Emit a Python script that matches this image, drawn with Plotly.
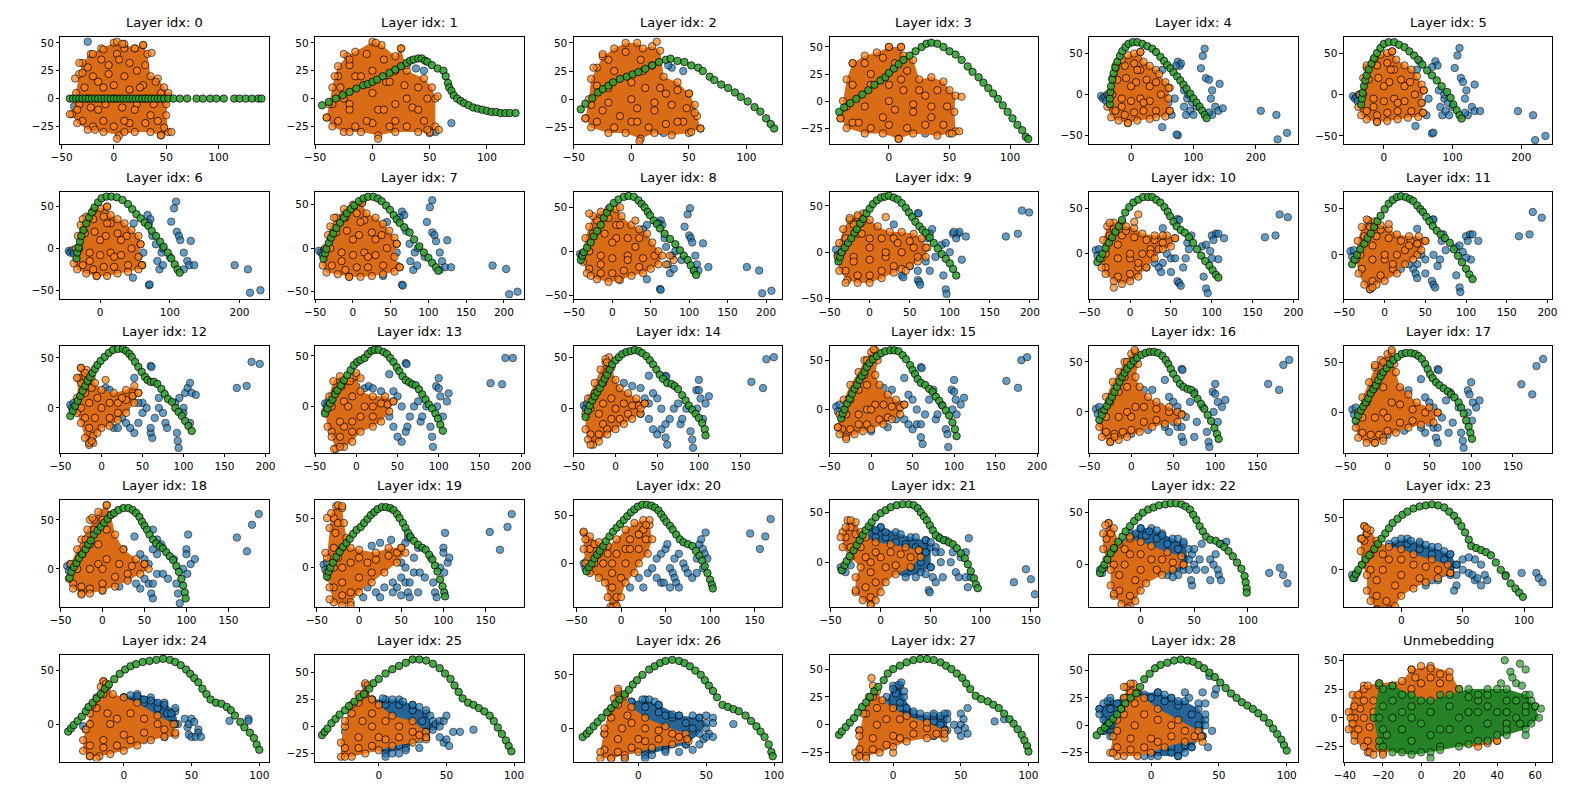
import plotly.graph_objects as go

# ---------------- titles / axes ----------------
titles = [f"Layer idx: {i}" for i in range(29)] + ["Unmebedding"]

x_ranges = [[-51,148],[-50,132],[-50,131],[-49,123],[-67,267],[-58,245],
            [-57,242],[-50,226],[-50,221],[-50,210],[-50,205],[-50,206],
            [-50,204],[-50,203],[-50,200],[-50,201],[-50,198],[-52,197],
            [-50,198],[-52,195],[-53,181],[-51,157],[-48,146.5],[-46.6,123],
            [-46.7,107],[-47,107],[-47.5,106],[-47,107],[-45.5,108],[-40.5,69]]
y_ranges = [[-41,55],[-41,55],[-40,55],[-40,59],[-61,70],[-60,69],
            [-60,68],[-58,65],[-54,68],[-50,65.5],[-49,68],[-47,68],
            [-45,62],[-46,60],[-43,61],[-44,64.5],[-41,66],[-40,66],
            [-39,70],[-40,68],[-45.5,65.6],[-45,62],[-41,62],[-36,67],
            [-35,65],[-32.5,66.6],[-31,69],[-33,63],[-33,64.5],[-38,55]]
XT_A = [-50,0,50,100]
XT_B = [0,50,100]
XT_C = [0,100,200]
XT_D = [-50,0,50,100,150,200]
XT_E = [-50,0,50,100,150]
XT_F = [-40,-20,0,20,40,60]
x_ticks = [XT_A,XT_A,XT_A,XT_B,XT_C,XT_C,
           XT_C,XT_D,XT_D,XT_D,XT_D,XT_D,
           XT_D,XT_D,XT_E,XT_D,XT_E,XT_E,
           XT_E,XT_E,XT_E,XT_E,XT_B,XT_B,
           XT_B,XT_B,XT_B,XT_B,XT_B,XT_F]
YT_A = [-25,0,25,50]
YT_B = [-50,0,50]
YT_C = [0,50]
y_ticks = [YT_A,YT_A,YT_A,YT_A,YT_B,YT_B,
           YT_B,YT_B,YT_B,YT_B,YT_C,YT_C,
           YT_C,YT_C,YT_C,YT_C,YT_C,YT_C,
           YT_C,YT_C,YT_C,YT_C,YT_C,YT_C,
           YT_C,YT_A,YT_C,YT_A,YT_A,YT_A]

# ---------------- data (x, y) ----------------
green_00 = [(-42,0),(-39,0),(-36,0),(-33,0),(-30,0),(-27,0),(-24,0),(-21,0),(-18,0),(-15,0),(-12,0),(-9,0),(-6,0),(-3,0),(0,0),(3,0),(6,0),(9,0),(12,0),(15,0),(18,0),(21,0),(24,0),(27,0),(30,0),(33,0),(36,0),(39,0),(42,0),(45,0),(48,0),(52,0),(57,0),(63,0),(70,0),(79,0),(85,0),(92,0),(98,0),(105,0),(115,0),(120,0),(126,0),(132,0),(138,0),(141,0)]
orange_hull_00 = [(-40,-14),(-36,5),(-33,22),(-30,32),(-22,40),(-12,45),(0,50),(10,49),(20,45),(28,48),(32,40),(35,20),(42,18),(48,10),(52,2),(50,-15),(52,-30),(45,-33),(35,-30),(20,-30),(5,-33),(-10,-30),(-25,-28),(-35,-22)]
orange_00 = [(-42,-14),(3,51),(8,49),(28,48),(20,45),(-33,32),(-30,23),(-20,40),(-10,44),(36,41),(55,-30),(45,-33),(3,-36),(10,-30),(-18,-28),(48,-26),(52,5),(50,-5),(40,15),(-37,18),(30,30),(-35,-10)]
orange_core_00 = [(-30,-20),(-20,-25),(-10,-20),(0,-25),(15,-22),(30,-22),(42,-20),(-33,-5),(-22,-8),(-8,-5),(8,-8),(22,-5),(38,-5),(45,5),(-28,10),(-15,15),(0,12),(15,8),(28,12),(-25,28),(-12,35),(3,40),(15,32),(22,25),(-5,22),(10,45),(-20,20),(-5,30),(10,20),(0,0),(-15,-10),(20,-10),(30,0),(-25,0),(10,-20),(35,-15),(5,35),(-10,10),(25,10)]
blue_00 = [(-25,51),(-38,-7),(-35,-15),(-30,-20),(-20,-13),(45,-10),(-22,36)]

green_01 = [(-44,-6),(-38,-3),(-32,0),(-26,3),(-20,6),(-14,9),(-8,12),(-4,13),(0,15),(4,17),(9,20),(15,23),(20,26),(25,29),(30,32),(33,34),(36,35),(40,36),(43,36),(46,34),(48,33),(52,30),(57,27),(62,25),(64,20),(66,14),(67,10),(69,7),(71,3),(74,0),(77,-2),(80,-4),(84,-6),(88,-8),(92,-9),(96,-10),(100,-11),(104,-12),(108,-12),(112,-13),(116,-13),(120,-13),(125,-13)]
orange_hull_01 = [(-40,-17),(-38,-5),(-35,10),(-33,20),(-30,29),(-22,38),(-15,42),(0,51),(8,48),(20,38),(25,45),(30,25),(45,18),(52,10),(55,0),(55,-25),(50,-31),(40,-30),(20,-30),(5,-33),(-10,-30),(-25,-30),(-35,-25)]
orange_01 = [(-40,-17),(-25,40),(-20,35),(3,50),(25,45),(30,30),(50,-30),(58,-28),(57,2),(48,-28),(5,-36),(-20,-30)]
orange_core_01 = [(-30,-20),(-15,-25),(0,-22),(15,-25),(30,-25),(45,-20),(-35,-5),(-20,-5),(5,-10),(20,-5),(35,-8),(48,0),(-28,10),(-15,20),(0,25),(12,15),(28,12),(40,10),(-20,30),(-5,40),(10,35),(20,25),(-30,20),(-10,20),(0,5),(10,-10),(-20,-10),(30,0),(20,-20),(40,-10),(-5,-20),(15,15),(-25,0)]
blue_01 = [(38,27),(45,25),(20,28),(69,-22),(55,-30),(42,-25),(48,-15),(50,-10)]

green_02 = [(-44,-9),(-40,-4),(-34,1),(-29,6),(-25,9),(-20,12),(-16,15),(-10,18),(-4,20),(1,22),(6,24),(12,27),(18,30),(24,33),(30,35),(34,36),(40,34),(46,33),(52,30),(58,28),(62,25),(68,20),(72,17),(78,13),(84,10),(90,6),(95,2),(101,-2),(107,-7),(112,-11),(117,-17),(121,-22),(124,-26)]
orange_hull_02 = [(-40,-17),(-37,0),(-35,18),(-30,28),(-25,38),(-15,45),(-5,50),(5,50),(10,45),(18,47),(25,43),(28,20),(40,15),(50,5),(55,-5),(57,-15),(60,-26),(50,-30),(35,-32),(20,-30),(8,-35),(-5,-30),(-20,-30),(-35,-25)]
orange_02 = [(-40,-17),(52,-29),(60,-26),(55,-12),(50,5),(7,-37),(22,51),(-33,28),(-25,40)]
orange_core_02 = [(-30,-20),(-15,-25),(0,-20),(15,-25),(30,-22),(45,-20),(-35,-5),(-20,-3),(5,-8),(20,-3),(35,-5),(48,-8),(-30,12),(-15,25),(0,15),(12,10),(25,10),(40,8),(-20,35),(-5,42),(8,35),(18,30),(-20,10),(0,0),(20,-10),(-10,-15),(30,5),(10,25),(-25,-10),(40,-20),(5,-20)]
blue_02 = [(30,-27),(28,-30),(25,-28),(35,28),(45,25),(32,30),(40,-25)]

green_03 = [(-41,-10),(-37,-6),(-32,-2),(-27,2),(-22,6),(-17,10),(-12,15),(-7,19),(-3,22),(0,26),(4,30),(8,34),(12,38),(17,42),(22,46),(27,50),(31,53),(35,54),(40,53),(45,50),(50,46),(55,43),(60,38),(65,32),(69,27),(74,22),(78,17),(82,12),(86,7),(90,2),(94,-4),(98,-10),(102,-16),(106,-22),(110,-27),(113,-33),(115,-35)]
orange_hull_03 = [(-40,-16),(-38,0),(-35,20),(-30,35),(-20,42),(-10,45),(0,50),(10,50),(12,42),(20,38),(25,20),(35,22),(45,18),(50,10),(55,5),(54,-10),(55,-28),(50,-30),(40,-32),(20,-30),(8,-35),(-5,-30),(-20,-30),(-35,-25)]
orange_03 = [(-40,-16),(0,50),(10,50),(60,4),(58,-28),(52,-30),(8,-35),(-30,35)]
orange_core_03 = [(-30,-20),(-15,-25),(0,-22),(15,-25),(30,-22),(45,-22),(-35,-5),(-20,-5),(5,-8),(20,-3),(35,-5),(48,-5),(-30,15),(-15,25),(0,15),(12,10),(25,10),(40,10),(-20,35),(-5,40),(5,35),(15,28),(-25,-20),(0,0),(20,-10),(-15,15),(35,-15),(10,20),(-5,-15),(30,5)]
blue_03 = [(15,18),(20,8),(30,-30),(-30,-20)]

green_04 = [(-34,-12),(-34,-5),(-33,3),(-32,10),(-30,18),(-28,26),(-25,33),(-22,40),(-18,47),(-14,53),(-9,58),(-4,62),(3,64),(10,64),(18,62),(26,59),(34,56),(40,52),(47,46),(53,41),(58,36),(63,32),(68,27),(74,22),(79,17),(84,12),(89,7),(95,1),(100,-5),(105,-10),(110,-15),(114,-20),(118,-25),(121,-29)]
orange_hull_04 = [(-38,-15),(-35,0),(-30,20),(-25,32),(-15,42),(-5,48),(5,50),(15,52),(20,40),(30,35),(40,30),(45,25),(55,15),(62,8),(60,-5),(62,-20),(55,-27),(40,-28),(30,-30),(10,-32),(-5,-35),(-20,-32),(-32,-28)]
orange_04 = [(15,52),(-25,35),(62,-20),(60,8),(-5,-35)]
orange_core_04 = [(-25,-20),(-10,-25),(5,-22),(20,-20),(40,-20),(-30,0),(-15,-5),(0,-8),(15,-5),(30,-8),(48,0),(-22,18),(-8,20),(8,15),(25,18),(40,15),(-10,35),(5,38),(15,30),(0,10),(20,-10),(-15,-15),(30,10),(10,30)]
blue_04 = [(-48,-2),(-45,-5),(-42,-3),(-40,-8),(-38,0),(50,30),(55,10),(60,-10),(65,-25),(50,-40),(75,-50),(73,-49),(75,40),(78,35),(80,38),(72,35),(85,-15),(88,-25),(90,-5),(95,-20),(98,-10),(100,-25),(85,5),(118,56),(115,47),(112,32),(120,20),(125,18),(130,5),(128,-5),(142,13),(135,-15),(140,-20),(147,-17),(130,-25),(125,-22),(208,-20),(233,-25),(235,-55),(250,-47),(70,-5),(92,0),(105,-15)]

green_05 = [(-33,-12),(-32,-5),(-31,2),(-29,10),(-27,17),(-25,23),(-22,30),(-18,37),(-14,44),(-10,50),(-5,56),(0,61),(7,63),(15,63),(22,60),(30,57),(37,52),(44,47),(50,42),(56,36),(63,29),(70,23),(77,17),(84,10),(92,3),(97,-4),(101,-12),(106,-19),(110,-25),(113,-29)]
orange_hull_05 = [(-37,-15),(-35,0),(-30,20),(-25,32),(-15,42),(-5,48),(5,50),(12,52),(18,42),(30,35),(40,30),(48,22),(55,12),(58,5),(55,-10),(57,-22),(50,-27),(35,-28),(20,-30),(5,-32),(-10,-33),(-25,-30),(-33,-25)]
orange_05 = [(12,52),(-25,35),(57,-22),(58,5),(-10,-33)]
orange_core_05 = [(-25,-20),(-10,-25),(5,-22),(20,-20),(40,-20),(-30,0),(-15,-5),(0,-8),(15,-5),(30,-8),(45,0),(-22,18),(-8,20),(8,15),(25,18),(38,15),(-10,35),(5,38),(15,30),(0,10),(20,-10),(-15,-15),(30,10),(10,30)]
blue_05 = [(-45,-2),(-42,-5),(-40,-3),(-38,-8),(-36,0),(48,30),(52,40),(50,10),(55,-10),(62,-25),(46,-38),(70,-47),(72,-46),(75,40),(78,35),(70,33),(82,-15),(85,-25),(88,-5),(90,-20),(93,-10),(95,-25),(80,5),(110,56),(107,47),(103,32),(112,20),(115,15),(120,5),(118,-5),(132,12),(128,-15),(132,-20),(140,-20),(122,-25),(118,-22),(195,-20),(217,-25),(220,-55),(235,-50),(65,-5),(88,0),(100,-15)]

green_06 = [(-34,-12),(-33,-5),(-31,1),(-29,8),(-27,15),(-24,22),(-20,30),(-16,37),(-12,43),(-8,49),(-3,55),(2,60),(9,62),(16,62),(24,61),(32,58),(40,53),(46,47),(52,41),(58,36),(64,31),(69,27),(74,21),(80,15),(86,8),(91,2),(97,-5),(102,-12),(107,-19),(111,-25),(114,-29)]
orange_hull_06 = [(-38,-18),(-35,0),(-32,15),(-28,28),(-20,38),(-10,45),(0,48),(10,50),(15,40),(25,35),(35,30),(45,22),(55,15),(58,5),(55,-10),(60,-20),(55,-25),(40,-28),(25,-30),(10,-33),(-5,-33),(-20,-30),(-33,-25)]
orange_06 = [(10,50),(-25,35),(60,-20),(58,5),(-5,-33)]
orange_core_06 = [(-25,-20),(-10,-25),(5,-22),(20,-22),(40,-20),(-30,0),(-15,-5),(0,-8),(15,-5),(30,-8),(45,0),(-22,18),(-8,20),(8,15),(25,18),(38,15),(-10,35),(5,38),(15,30),(0,10),(20,-10),(-15,-15),(30,10),(10,30)]
blue_06 = [(-45,-3),(-43,-5),(-40,-2),(-38,-6),(48,30),(50,10),(55,-10),(60,-20),(47,-35),(70,-44),(71,-43),(68,40),(72,35),(70,30),(82,-15),(85,-25),(88,-5),(90,-20),(80,5),(75,15),(109,56),(106,48),(102,32),(110,20),(113,15),(115,10),(120,-5),(130,9),(125,-15),(128,-20),(135,-20),(120,-25),(193,-20),(212,-25),(215,-53),(230,-50),(62,-5),(90,0),(100,-10)]

green_07 = [(-39,-12),(-37,-6),(-35,-1),(-32,6),(-29,12),(-26,17),(-22,23),(-17,29),(-12,35),(-8,40),(-3,45),(2,49),(8,54),(14,57),(20,59),(27,59),(33,57),(38,54),(44,49),(49,44),(54,38),(58,33),(62,29),(68,24),(75,18),(81,10),(88,2),(94,-5),(100,-11),(105,-17),(110,-22),(113,-26)]
orange_hull_07 = [(-40,-20),(-37,0),(-33,15),(-30,25),(-22,35),(-12,45),(0,50),(12,52),(18,40),(30,35),(40,28),(48,20),(55,12),(58,5),(55,-10),(62,-22),(55,-27),(40,-30),(25,-32),(10,-33),(-5,-33),(-20,-30),(-35,-28)]
orange_07 = [(12,52),(-25,35),(62,-22),(58,5),(-5,-33)]
orange_core_07 = [(-28,-20),(-10,-25),(5,-22),(20,-22),(40,-20),(-30,0),(-15,-5),(0,-8),(15,-5),(30,-8),(45,0),(-22,18),(-8,20),(8,15),(25,18),(38,15),(-10,35),(5,40),(15,32),(0,10),(20,-10),(-15,-15),(30,10),(10,30)]
blue_07 = [(-45,-3),(-42,-5),(-40,-8),(-38,-2),(45,30),(48,10),(52,-10),(58,-20),(40,-32),(65,-42),(66,-43),(65,42),(68,38),(62,35),(76,-15),(80,-25),(82,-5),(85,-20),(75,5),(70,20),(105,55),(102,47),(98,30),(105,18),(108,15),(110,8),(115,-5),(125,9),(118,-15),(122,-22),(130,-22),(115,-25),(185,-20),(203,-24),(207,-53),(218,-50),(58,-5),(86,0),(95,-10)]

green_08 = [(-41,-10),(-39,-5),(-37,-1),(-33,4),(-28,10),(-24,17),(-20,23),(-15,30),(-11,38),(-7,44),(-3,50),(2,55),(8,59),(15,62),(21,63),(28,62),(34,58),(38,54),(42,50),(46,45),(49,41),(54,35),(58,31),(62,26),(68,20),(75,14),(82,8),(88,1),(93,-5),(98,-10),(102,-16),(106,-22),(109,-27)]
orange_hull_08 = [(-38,-2),(-35,15),(-30,28),(-25,40),(-15,45),(-5,48),(5,48),(12,40),(25,30),(35,25),(45,20),(52,10),(60,0),(65,-5),(60,-15),(50,-20),(40,-25),(25,-28),(10,-33),(-5,-35),(-20,-32),(-33,-25),(-38,-12)]
orange_08 = [(30,35),(-28,-28),(80,-10),(75,-5),(8,-32),(10,50),(-30,43),(70,-15)]
orange_core_08 = [(-30,-20),(-15,-25),(0,-25),(15,-22),(35,-18),(-30,0),(-15,-5),(0,-8),(20,-5),(40,-8),(55,-5),(-25,20),(-10,20),(5,15),(20,15),(35,15),(-20,35),(-5,38),(5,30),(0,10),(20,-10),(-15,-15),(30,5),(10,30)]
blue_08 = [(-42,-3),(-40,-5),(-38,-10),(45,30),(40,25),(50,-15),(45,-32),(62,-43),(63,-44),(63,35),(65,30),(60,32),(72,-15),(75,-25),(78,-5),(80,-20),(70,5),(68,15),(101,49),(98,42),(94,28),(100,18),(102,15),(104,10),(108,-5),(118,9),(110,-15),(112,-22),(125,-18),(106,-22),(175,-18),(191,-22),(195,-48),(207,-45),(55,-5),(82,0),(90,-10),(30,-15),(20,-20)]

green_09 = [(-39,-10),(-37,-5),(-35,0),(-31,5),(-27,10),(-23,15),(-19,21),(-16,25),(-12,31),(-8,36),(-4,42),(0,47),(4,52),(9,56),(14,59),(19,60),(24,61),(30,59),(35,57),(40,53),(45,48),(49,43),(53,38),(57,33),(62,28),(66,24),(70,21),(75,16),(80,10),(85,4),(90,-2),(95,-7),(100,-12),(104,-18),(108,-25)]
orange_hull_09 = [(-40,-5),(-38,10),(-33,25),(-25,35),(-15,38),(-8,42),(0,35),(10,28),(25,22),(40,22),(55,20),(65,15),(72,5),(70,-5),(60,-10),(50,-15),(40,-18),(30,-22),(15,-28),(0,-33),(-15,-33),(-28,-30),(-38,-20)]
orange_09 = [(20,38),(-30,-33),(-25,37),(-15,40),(70,5),(60,-5),(45,-20)]
orange_core_09 = [(-30,-20),(-15,-25),(0,-25),(15,-20),(30,-15),(-35,0),(-20,-5),(0,-8),(20,-5),(40,0),(55,5),(-30,15),(-15,20),(0,15),(15,15),(30,15),(50,12),(-20,30),(-10,32),(0,5),(20,0),(-20,-10),(35,10),(-10,20)]
blue_09 = [(-42,3),(-40,-3),(-38,-8),(-36,-10),(30,30),(60,42),(61,42),(50,-5),(50,-15),(40,-25),(42,-27),(60,-30),(62,-32),(63,-35),(40,15),(45,10),(70,-10),(72,15),(75,-20),(78,25),(75,20),(90,8),(92,-25),(95,-40),(96,-45),(95,10),(100,0),(104,20),(110,20),(112,22),(108,15),(115,-8),(120,17),(105,22),(170,17),(185,20),(190,45),(199,43),(35,-10),(55,0),(60,-20),(82,-5)]

green_10 = [(-40,-9),(-37,-5),(-34,0),(-30,6),(-26,12),(-22,18),(-18,24),(-14,30),(-10,37),(-6,45),(-1,51),(4,56),(10,59),(16,62),(22,62),(27,62),(32,59),(37,56),(42,51),(46,46),(49,41),(53,35),(57,30),(62,26),(67,23),(72,18),(77,12),(82,5),(87,-2),(92,-8),(97,-13),(101,-18),(105,-23),(108,-26)]
orange_hull_10 = [(-35,-5),(-33,15),(-28,30),(-20,34),(-10,35),(-5,30),(5,28),(15,22),(30,20),(45,20),(55,17),(50,8),(40,5),(30,-5),(20,-15),(10,-25),(0,-30),(-10,-33),(-20,-30),(-30,-22),(-35,-15)]
orange_10 = [(10,43),(-20,-37),(55,17),(-25,34),(5,35),(40,20)]
orange_core_10 = [(-30,-15),(-15,-25),(0,-22),(10,-15),(-30,0),(-15,-5),(0,-5),(15,0),(25,5),(40,12),(-25,20),(-10,20),(5,18),(20,15),(30,15),(-20,28),(-5,25),(35,5),(25,0),(0,0),(-15,10),(10,-10)]
blue_10 = [(-42,4),(-40,-2),(-38,5),(-36,-5),(40,28),(58,38),(60,37),(45,0),(40,-10),(35,-15),(38,-20),(58,-30),(60,-32),(62,-35),(50,-5),(55,-5),(65,-15),(68,-5),(70,12),(75,20),(72,5),(88,8),(90,-25),(93,-38),(95,-43),(93,10),(98,3),(100,20),(105,22),(108,22),(102,15),(108,-6),(115,17),(100,-5),(165,18),(178,20),(183,43),(193,40),(30,-10),(20,-15),(50,-20)]

green_11 = [(-40,-10),(-37,-5),(-34,0),(-30,6),(-25,12),(-21,18),(-17,23),(-13,30),(-9,36),(-5,42),(0,49),(5,55),(10,59),(15,62),(20,63),(26,62),(31,60),(35,58),(40,53),(44,49),(47,46),(51,41),(55,36),(59,31),(64,26),(69,22),(74,18),(80,13),(85,6),(90,-1),(95,-8),(100,-15),(104,-21),(108,-26)]
orange_hull_11 = [(-35,-5),(-33,15),(-28,30),(-20,37),(-12,36),(-5,32),(5,28),(15,22),(30,20),(42,20),(50,15),(45,5),(35,-5),(25,-10),(15,-20),(0,-28),(-10,-32),(-18,-37),(-25,-32),(-32,-20)]
orange_11 = [(5,33),(-22,38),(50,15),(-18,-37),(-15,-35)]
orange_core_11 = [(-28,-15),(-15,-28),(-5,-22),(10,-15),(-30,0),(-15,-5),(0,-5),(15,0),(25,5),(40,12),(-25,20),(-10,20),(5,18),(20,15),(32,15),(-18,30),(-5,27),(30,10),(40,0),(0,0),(-15,10),(10,-10)]
blue_11 = [(-42,4),(-40,-2),(-38,5),(-36,-5),(40,28),(59,38),(60,38),(45,0),(40,-10),(35,-15),(38,-20),(40,-25),(58,-28),(60,-32),(62,-35),(50,-5),(60,0),(65,-12),(68,-5),(70,15),(72,22),(75,5),(88,8),(88,-22),(92,-35),(93,-40),(92,10),(96,3),(100,20),(105,22),(108,22),(102,15),(106,-5),(115,15),(100,-3),(165,20),(178,22),(182,46),(193,40),(30,-10),(20,-15),(50,-20)]

green_12 = [(-38,-8),(-35,-3),(-32,2),(-29,7),(-26,12),(-23,17),(-20,22),(-17,27),(-14,31),(-11,35),(-8,39),(-5,43),(-1,47),(4,51),(9,55),(14,58),(20,59),(26,59),(30,57),(34,54),(37,51),(41,46),(45,41),(49,36),(53,31),(56,28),(60,26),(64,26),(68,24),(73,19),(77,14),(81,9),(86,6),(90,0),(94,-4),(98,-8),(102,-13),(106,-18),(110,-23)]
orange_hull_12 = [(-30,10),(-28,30),(-25,40),(-18,38),(-12,30),(-8,25),(0,18),(15,15),(30,18),(40,22),(45,15),(40,5),(30,-5),(20,-12),(10,-18),(0,-20),(-5,-25),(-10,-35),(-15,-37),(-20,-30),(-25,-15),(-30,-5)]
orange_12 = [(-30,30),(-25,40),(-20,35),(-15,-35),(-12,-33),(5,28),(45,15)]
orange_core_12 = [(-25,25),(-20,15),(-25,0),(-20,-10),(-15,-20),(-10,-28),(-12,20),(-5,10),(-8,-10),(0,0),(10,5),(20,5),(30,8),(38,12),(10,-10),(20,-5),(25,10),(-15,5)]
blue_12 = [(-38,3),(-36,0),(-34,5),(-32,-3),(5,20),(10,18),(40,30),(60,42),(61,41),(15,-20),(20,-20),(25,-10),(30,-15),(35,-20),(40,-25),(45,-15),(50,-5),(50,5),(55,0),(60,-25),(62,-30),(60,-20),(65,-10),(70,0),(75,-5),(78,-15),(80,-20),(70,10),(90,5),(92,-25),(93,-33),(94,-40),(95,10),(100,0),(102,15),(105,20),(108,25),(110,15),(115,13),(100,-5),(108,-15),(165,20),(177,22),(183,46),(193,44),(30,0),(35,10),(45,5)]

green_13 = [(-38,-7),(-35,-2),(-32,3),(-29,7),(-26,12),(-23,16),(-19,21),(-15,26),(-11,31),(-7,36),(-3,41),(1,44),(5,46),(10,48),(14,52),(18,55),(22,56),(27,56),(33,54),(37,52),(41,48),(45,44),(49,39),(52,35),(56,30),(60,26),(64,24),(68,22),(72,21),(76,17),(80,12),(84,7),(88,2),(92,-2),(96,-7),(99,-12),(102,-18),(105,-24)]
orange_hull_13 = [(-38,-5),(-33,10),(-28,25),(-20,30),(-12,25),(-5,28),(0,30),(5,15),(20,10),(35,10),(45,5),(40,-5),(30,-15),(20,-20),(5,-25),(-5,-35),(-15,-40),(-25,-42),(-30,-30),(-35,-20)]
orange_13 = [(-27,-42),(-20,-40),(0,33),(5,28),(45,5),(-8,25)]
orange_core_13 = [(-30,-25),(-20,-30),(-15,-20),(-30,0),(-25,15),(-18,20),(-15,5),(-5,10),(-5,-15),(5,-10),(10,0),(20,0),(30,3),(38,2),(20,-10),(-5,-25),(-10,0),(-20,-15)]
blue_13 = [(-38,3),(-36,0),(-34,5),(-32,-3),(-30,10),(-25,5),(0,20),(10,18),(15,20),(20,18),(30,15),(40,32),(60,43),(61,42),(45,15),(50,10),(55,0),(40,-10),(45,-20),(50,-30),(55,-35),(60,-25),(62,-20),(65,-10),(70,0),(75,5),(78,-15),(80,-10),(85,0),(90,-20),(92,-30),(93,-40),(97,20),(100,28),(100,18),(102,10),(110,5),(112,13),(98,0),(105,-10),(163,23),(177,22),(181,48),(190,48),(25,0),(30,-5),(35,5)]

green_14 = [(-36,-8),(-33,-2),(-31,3),(-28,8),(-25,12),(-22,16),(-19,20),(-16,25),(-13,29),(-10,33),(-7,38),(-4,43),(0,47),(4,50),(8,53),(13,55),(18,56),(23,57),(28,56),(32,54),(37,51),(41,47),(45,43),(49,38),(53,33),(57,29),(62,25),(67,24),(71,22),(75,19),(80,13),(84,8),(88,3),(92,-1),(96,-5),(100,-9),(104,-14),(107,-20),(108,-26)]
orange_hull_14 = [(-36,-5),(-33,10),(-25,25),(-18,38),(-12,45),(-8,50),(-5,40),(0,28),(5,20),(15,15),(25,10),(35,5),(30,-5),(20,-10),(10,-15),(0,-20),(-10,-25),(-20,-32),(-27,-35),(-33,-30),(-36,-20)]
orange_14 = [(-12,48),(-10,45),(-30,-35),(30,0),(35,5)]
orange_core_14 = [(-30,-25),(-20,-25),(-15,-15),(-30,0),(-25,15),(-15,25),(-12,35),(-15,5),(-5,10),(-5,-10),(5,-10),(10,5),(20,3),(28,3),(15,-5),(-10,-20),(0,0),(-20,-5)]
blue_14 = [(-38,3),(-36,0),(-34,5),(-32,-3),(-30,10),(0,20),(10,25),(20,22),(30,20),(40,32),(60,32),(61,31),(45,15),(50,10),(55,0),(40,-10),(45,-20),(50,-25),(55,-20),(60,-28),(62,-35),(60,-15),(65,-10),(70,0),(75,5),(78,-15),(80,-10),(85,0),(90,-22),(92,-30),(93,-38),(97,18),(100,28),(100,18),(102,10),(108,5),(112,12),(98,0),(105,-10),(163,26),(177,20),(181,48),(190,50),(10,5),(20,0),(30,-5),(40,5),(35,10),(15,10)]

green_15 = [(-36,-9),(-34,-4),(-32,0),(-29,6),(-26,11),(-23,16),(-20,21),(-17,25),(-14,30),(-11,34),(-8,38),(-5,43),(-2,47),(2,51),(7,54),(12,57),(17,59),(23,60),(28,60),(33,59),(38,55),(42,51),(47,45),(50,40),(53,36),(56,31),(60,27),(65,25),(70,21),(74,18),(78,13),(82,9),(86,4),(90,-1),(94,-6),(98,-13),(101,-20),(103,-27)]
orange_hull_15 = [(-40,-18),(-38,-5),(-33,10),(-25,25),(-15,38),(-8,50),(0,58),(5,60),(8,50),(5,35),(10,25),(20,15),(30,10),(40,5),(35,-5),(25,-10),(15,-15),(0,-20),(-10,-22),(-20,-25),(-30,-28),(-38,-25)]
orange_15 = [(3,61),(-5,50),(-30,-30),(40,5),(-40,-18)]
orange_core_15 = [(-35,-20),(-25,-20),(-15,-15),(-5,-15),(-30,-5),(-25,10),(-15,20),(-8,35),(-2,48),(-15,-5),(-5,0),(5,5),(15,5),(25,3),(35,2),(10,-10),(20,-8),(-5,25),(0,0)]
blue_15 = [(-42,3),(-40,-2),(-38,5),(-35,-15),(5,20),(15,22),(25,20),(40,32),(60,43),(61,42),(45,15),(50,10),(55,0),(40,-10),(45,-15),(50,-20),(55,-15),(60,-28),(62,-35),(60,-15),(65,-5),(70,10),(75,20),(78,-10),(80,-5),(85,5),(90,-20),(92,-25),(93,-38),(97,20),(100,30),(100,18),(102,10),(108,5),(112,12),(98,0),(103,-5),(163,29),(177,22),(181,50),(188,53),(10,5),(20,0),(30,-10),(35,5),(20,-18),(0,-22)]

green_16 = [(-38,-8),(-35,-3),(-32,2),(-29,6),(-26,11),(-23,15),(-20,20),(-17,25),(-14,30),(-11,35),(-8,39),(-5,43),(-1,47),(3,51),(7,54),(12,57),(17,59),(22,60),(27,60),(32,59),(37,56),(41,52),(44,48),(47,43),(50,38),(54,33),(58,28),(62,25),(67,23),(71,22),(75,18),(79,13),(83,8),(87,3),(91,-3),(95,-9),(99,-16),(102,-22),(104,-27)]
orange_hull_16 = [(-38,-15),(-35,0),(-30,15),(-22,30),(-15,40),(-8,50),(0,58),(5,60),(8,48),(5,35),(10,25),(20,15),(30,10),(45,5),(60,-2),(55,-10),(40,-12),(25,-15),(10,-20),(-5,-25),(-15,-28),(-25,-30),(-35,-25)]
orange_16 = [(4,62),(-5,50),(-25,-30),(55,0),(60,-3),(-20,-25)]
orange_core_16 = [(-30,-20),(-20,-22),(-10,-20),(0,-18),(-30,-5),(-25,10),(-15,20),(-8,35),(0,48),(-15,-5),(-5,0),(5,5),(15,5),(30,3),(45,0),(15,-10),(30,-8),(-5,25),(0,-5)]
blue_16 = [(-42,3),(-40,-2),(-38,5),(-35,-12),(5,20),(15,22),(25,22),(40,32),(60,43),(61,42),(45,15),(50,10),(55,5),(40,-15),(45,-20),(50,-10),(55,-15),(60,-25),(62,-30),(60,-15),(65,-5),(70,10),(75,20),(75,-25),(78,-10),(85,5),(90,-20),(92,-30),(93,-35),(97,20),(100,28),(100,18),(103,10),(108,5),(112,12),(98,0),(103,-10),(163,28),(176,22),(181,47),(188,52),(10,0),(20,-5),(30,-10),(35,5),(20,-18),(0,-22)]

green_17 = [(-38,-8),(-35,-3),(-32,2),(-29,6),(-26,10),(-23,14),(-20,19),(-17,23),(-14,27),(-11,32),(-8,36),(-5,40),(-1,44),(3,48),(7,52),(12,55),(17,58),(22,59),(28,59),(33,58),(37,56),(41,53),(45,48),(48,43),(51,38),(54,34),(58,30),(62,27),(67,24),(72,21),(76,18),(80,15),(85,10),(88,5),(91,-1),(94,-8),(97,-14),(99,-20),(101,-26)]
orange_hull_17 = [(-38,-15),(-35,0),(-30,15),(-22,30),(-15,45),(-8,52),(0,58),(5,60),(8,48),(10,40),(15,25),(25,18),(35,10),(50,5),(60,0),(55,-10),(40,-12),(25,-15),(10,-20),(-5,-25),(-15,-30),(-25,-30),(-35,-25)]
orange_17 = [(5,62),(-5,50),(-15,-30),(-5,-28),(60,0),(-15,47)]
orange_core_17 = [(-30,-20),(-20,-22),(-10,-22),(0,-18),(-30,-5),(-25,10),(-15,25),(-8,38),(0,48),(-15,-5),(-5,0),(5,10),(15,8),(30,3),(45,0),(15,-10),(30,-8),(-5,25),(0,-5)]
blue_17 = [(-42,3),(-40,-2),(-38,5),(-35,-12),(5,20),(15,22),(25,22),(40,33),(60,43),(61,42),(45,15),(50,10),(55,5),(40,-15),(45,-20),(50,-10),(55,-15),(58,-25),(60,-30),(60,-15),(65,-5),(70,12),(75,20),(73,-20),(78,-10),(85,5),(88,-20),(90,-28),(91,-35),(96,22),(100,30),(98,18),(102,10),(106,5),(110,12),(96,0),(101,-8),(160,28),(173,18),(178,46),(186,53),(10,0),(20,-5),(30,-10),(35,5),(20,-18),(0,-22)]

green_18 = [(-39,-9),(-37,-3),(-34,2),(-31,6),(-28,11),(-24,15),(-20,20),(-17,25),(-14,29),(-10,35),(-6,39),(-2,43),(2,47),(6,51),(10,55),(14,57),(19,60),(25,62),(31,62),(36,60),(40,57),(44,53),(47,48),(50,44),(53,40),(56,35),(60,30),(64,26),(68,23),(72,21),(76,17),(80,13),(84,9),(88,3),(91,-3),(94,-10),(96,-17),(98,-24),(99,-30)]
orange_hull_18 = [(-40,-10),(-38,5),(-30,20),(-25,30),(-18,40),(-10,50),(-5,58),(5,65),(10,55),(15,35),(25,20),(40,10),(50,5),(55,0),(45,-5),(30,-12),(15,-18),(0,-22),(-15,-25),(-25,-25),(-35,-20)]
orange_18 = [(-15,50),(-12,52),(5,65),(-25,-26),(50,5),(-20,30)]
orange_core_18 = [(-35,-15),(-25,-18),(-15,-20),(0,-15),(-30,0),(-25,15),(-15,25),(-10,40),(0,50),(5,40),(-15,0),(-5,5),(5,10),(20,5),(35,3),(15,-8),(30,-5),(-5,25),(0,0)]
blue_18 = [(-42,3),(-40,-2),(-38,5),(-35,-12),(5,20),(15,22),(25,20),(38,33),(60,40),(45,15),(50,10),(55,5),(40,-15),(45,-20),(50,-10),(55,-15),(58,-25),(60,-30),(60,-15),(65,-5),(65,15),(70,25),(72,-5),(78,-10),(85,10),(88,-15),(90,-25),(92,-35),(100,20),(102,35),(100,15),(105,5),(110,10),(96,0),(101,-5),(160,32),(172,18),(178,45),(186,56),(10,0),(20,-5),(30,-10),(35,5),(20,-18),(0,-22),(60,20),(65,30)]

green_19 = [(-38,-9),(-36,-4),(-34,0),(-31,5),(-27,11),(-23,16),(-19,21),(-15,25),(-11,29),(-7,34),(-3,38),(2,41),(6,45),(10,49),(14,53),(18,56),(22,59),(27,61),(32,61),(37,60),(41,58),(45,54),(48,50),(52,45),(55,40),(58,35),(61,31),(65,27),(70,23),(75,20),(79,18),(83,13),(87,8),(90,2),(93,-4),(96,-12),(99,-19),(101,-25),(102,-29)]
orange_hull_19 = [(-38,10),(-35,40),(-33,55),(-27,62),(-20,60),(-18,45),(-15,30),(-10,20),(0,18),(20,15),(35,20),(50,20),(55,15),(45,5),(30,-5),(15,-15),(0,-25),(-10,-35),(-20,-38),(-30,-35),(-35,-20),(-38,-5)]
orange_19 = [(-25,63),(-20,62),(-38,50),(-35,-32),(-10,-38),(50,20),(-40,15)]
orange_core_19 = [(-30,50),(-28,35),(-30,20),(-25,45),(-30,0),(-30,-20),(-20,-28),(-10,-25),(-20,0),(-10,5),(0,10),(10,5),(20,8),(35,12),(45,15),(0,-10),(15,-5),(-20,20),(-25,10),(-20,-15)]
blue_19 = [(-42,3),(-40,-2),(-38,5),(-36,-10),(-30,5),(15,22),(25,25),(38,28),(55,25),(58,30),(60,32),(45,15),(50,5),(55,0),(40,-15),(45,-20),(50,-10),(55,-15),(58,-25),(60,-30),(60,-15),(65,-5),(65,10),(70,20),(72,-5),(78,-10),(85,10),(88,-15),(90,-25),(92,-30),(100,20),(102,35),(100,15),(105,5),(107,10),(96,0),(101,-5),(155,36),(167,18),(176,41),(181,54),(10,-20),(20,-25),(30,-20),(25,-30),(5,-30),(40,-25),(50,-28),(70,-25)]

green_20 = [(-39,-8),(-36,-4),(-33,0),(-30,5),(-27,9),(-24,13),(-20,18),(-17,23),(-13,28),(-9,33),(-5,37),(-1,41),(3,45),(7,49),(11,53),(15,56),(19,59),(24,61),(29,61),(34,60),(38,58),(42,55),(45,51),(48,47),(51,43),(55,39),(58,35),(62,30),(66,25),(70,22),(75,20),(80,18),(84,13),(88,8),(91,3),(94,-3),(97,-10),(100,-17),(102,-22),(103,-26)]
orange_hull_20 = [(-42,32),(-35,28),(-25,22),(-15,18),(-5,25),(5,35),(15,42),(25,45),(32,40),(35,25),(30,10),(20,0),(15,-10),(5,-20),(0,-35),(-5,-45),(-12,-45),(-15,-35),(-18,-20),(-25,-15),(-35,-10),(-40,0),(-42,15)]
orange_20 = [(-42,33),(-40,25),(-10,-46),(-5,-44),(32,45),(28,40),(20,30)]
orange_core_20 = [(-35,15),(-30,20),(-25,10),(-15,10),(-10,-10),(-10,-25),(-5,-35),(-5,10),(5,15),(5,0),(10,25),(20,30),(25,35),(28,25),(20,15),(-20,0),(-30,0),(-10,0),(10,15),(0,-15)]
blue_20 = [(-42,0),(-40,-5),(-38,3),(-35,-8),(0,20),(10,25),(15,15),(30,-10),(35,-5),(40,-15),(45,-20),(40,5),(45,10),(50,15),(52,20),(55,-5),(58,-10),(60,-15),(62,-20),(65,-25),(60,5),(65,10),(70,0),(72,-5),(75,-10),(80,-15),(48,-20),(55,-25),(85,5),(88,20),(90,25),(92,15),(95,32),(94,10),(97,5),(92,-5),(85,-10),(145,31),(156,15),(162,28),(168,46),(20,-15),(10,-25),(25,-25)]

green_21 = [(-39,-8),(-36,-3),(-34,1),(-31,6),(-27,12),(-24,17),(-21,22),(-18,27),(-15,32),(-12,36),(-9,40),(-5,45),(0,49),(5,52),(10,55),(16,57),(22,58),(28,58),(33,57),(37,54),(40,50),(43,46),(46,42),(49,37),(52,32),(55,27),(59,24),(63,22),(68,20),(72,18),(76,14),(80,9),(84,4),(87,-2),(90,-9),(93,-16),(95,-22),(97,-26)]
orange_hull_21 = [(-38,30),(-33,42),(-25,40),(-20,30),(-15,25),(-5,20),(10,18),(25,15),(38,12),(40,5),(30,-5),(15,-12),(5,-20),(0,-30),(-5,-38),(-10,-42),(-18,-38),(-25,-30),(-25,-15),(-20,-5),(-30,5),(-38,15)]
orange_21 = [(-30,42),(-35,35),(-10,-43),(-25,-28),(38,12),(-40,25)]
orange_core_21 = [(-35,25),(-30,35),(-25,28),(-30,15),(-20,15),(-15,5),(-10,-10),(-15,-25),(-10,-35),(-5,-20),(0,5),(10,10),(20,8),(30,5),(15,-3),(-5,10),(-10,0),(5,-5)]
blue_hull_21 = [(-15,20),(-10,35),(0,35),(15,30),(30,25),(45,22),(50,15),(50,-5),(40,-10),(25,-15),(10,-10),(0,-5)]
blue_core_21 = [(-5,25),(5,25),(15,20),(25,18),(35,15),(45,10),(40,0),(30,-5),(20,-5),(10,0)]
blue_21 = [(-40,-5),(-38,-8),(-35,-10),(-30,-3),(0,35),(5,30),(-5,32),(20,28),(35,25),(45,22),(50,20),(55,15),(55,10),(50,-5),(52,-15),(55,-20),(48,-28),(49,-30),(60,0),(62,-15),(60,10),(58,25),(65,22),(72,10),(75,-10),(78,-15),(80,5),(85,10),(85,-15),(88,24),(87,-25),(90,-15),(70,0),(133,-20),(145,-7),(150,-17),(154,-32),(45,-12),(35,-15)]

green_22 = [(-38,-8),(-36,-4),(-34,0),(-31,5),(-28,11),(-25,16),(-21,22),(-17,27),(-14,32),(-10,37),(-6,42),(-2,46),(2,50),(7,53),(12,55),(17,57),(23,58),(28,59),(33,59),(38,58),(42,56),(46,53),(49,48),(52,43),(55,37),(58,32),(61,27),(65,24),(70,23),(74,20),(78,17),(82,13),(86,8),(90,2),(94,-4),(97,-11),(98,-17),(99,-23),(99,-27)]
orange_hull_22 = [(-35,30),(-30,40),(-25,35),(-20,20),(-10,25),(0,22),(10,18),(25,12),(38,8),(40,0),(30,-5),(20,-10),(5,-18),(0,-25),(-5,-35),(-10,-40),(-18,-38),(-25,-30),(-28,-20),(-28,-5),(-32,5),(-35,15)]
orange_22 = [(-30,40),(-33,38),(-12,-42),(-25,-28),(40,0),(-10,27)]
orange_core_22 = [(-32,25),(-28,30),(-25,15),(-25,0),(-20,-10),(-20,-25),(-10,-30),(-5,-15),(-10,10),(0,10),(10,5),(20,5),(30,2),(15,-5),(0,-5),(-15,15),(-15,0)]
blue_hull_22 = [(-15,20),(-10,30),(0,35),(10,35),(20,30),(30,25),(40,20),(45,5),(40,-5),(25,-10),(10,-5),(0,0)]
blue_core_22 = [(-5,25),(5,28),(15,25),(25,20),(35,15),(40,5),(30,-3),(20,0),(10,5)]
blue_22 = [(-38,-5),(-36,-8),(-34,-3),(-30,5),(0,35),(8,32),(-5,30),(15,33),(20,28),(35,25),(40,22),(45,15),(48,10),(45,-5),(48,-20),(47,-15),(50,0),(55,5),(50,15),(57,20),(52,-5),(60,-5),(65,-15),(65,5),(68,0),(70,10),(72,-5),(73,-10),(75,20),(80,22),(75,-15),(120,-8),(130,-3),(133,-10),(137,-18),(35,-10),(30,-12)]

green_23 = [(-39,-8),(-37,-4),(-35,0),(-32,5),(-29,10),(-26,14),(-22,20),(-19,25),(-16,30),(-13,35),(-10,40),(-7,45),(-3,49),(1,53),(5,56),(10,59),(15,61),(20,62),(25,63),(30,62),(35,60),(39,56),(43,52),(46,47),(49,42),(52,36),(55,29),(57,23),(61,21),(65,19),(69,17),(73,14),(77,7),(81,0),(85,-6),(89,-13),(93,-18),(96,-22),(99,-26)]
orange_hull_23 = [(-33,30),(-30,42),(-25,38),(-20,28),(-10,22),(0,20),(10,15),(25,10),(38,5),(40,-3),(30,-8),(20,-12),(10,-18),(0,-25),(-5,-35),(-10,-38),(-20,-38),(-25,-30),(-28,-20),(-28,-5),(-32,5),(-33,18)]
orange_23 = [(-30,42),(-28,40),(-20,-38),(40,-3),(-32,30)]
orange_core_23 = [(-30,28),(-28,35),(-25,15),(-25,0),(-20,-10),(-20,-25),(-12,-30),(-5,-15),(-10,10),(0,10),(10,5),(20,3),(30,0),(15,-8),(0,-5),(-15,15),(-15,0)]
blue_hull_23 = [(-15,20),(-5,28),(5,30),(15,25),(25,22),(40,15),(45,5),(40,-5),(25,-10),(10,-5),(0,0)]
blue_core_23 = [(-5,20),(5,25),(15,20),(25,15),(35,10),(40,0),(30,-5),(20,-3),(10,5)]
blue_23 = [(-40,-5),(-38,-8),(-36,-3),(-10,25),(0,30),(8,28),(15,27),(20,24),(30,22),(35,18),(40,15),(45,5),(45,-5),(45,-15),(43,-20),(50,0),(55,-3),(58,-5),(60,-10),(62,-8),(65,5),(60,10),(68,-5),(70,-10),(65,-15),(85,-5),(98,-3),(110,-3),(112,-8),(115,-12),(30,-10),(20,-15),(50,10),(55,12)]

green_24 = [(-41,-7),(-39,-4),(-37,-1),(-34,3),(-31,7),(-28,12),(-26,16),(-23,20),(-20,24),(-17,28),(-14,33),(-11,37),(-7,42),(-3,47),(1,51),(5,54),(9,56),(14,58),(19,59),(24,60),(29,61),(34,60),(38,58),(42,55),(46,51),(49,47),(52,43),(55,39),(58,33),(61,28),(64,23),(68,20),(72,19),(76,16),(79,13),(82,8),(86,2),(89,-3),(93,-8),(96,-13),(98,-19),(100,-24)]
orange_hull_24 = [(-28,-5),(-25,10),(-20,25),(-17,35),(-15,40),(-12,35),(-8,28),(0,25),(10,20),(25,8),(37,0),(38,-10),(30,-12),(20,-15),(10,-20),(0,-25),(-10,-28),(-18,-30),(-25,-30),(-30,-25),(-30,-15)]
orange_24 = [(-15,40),(-13,38),(-25,-30),(-20,-32),(38,-8),(-23,18)]
orange_core_24 = [(-25,-20),(-15,-22),(-5,-20),(5,-15),(-25,0),(-20,15),(-15,28),(-12,10),(-5,5),(5,10),(15,5),(25,0),(30,-5),(15,-8),(0,-10),(-10,0),(-15,-15)]
blue_hull_24 = [(-10,15),(0,25),(10,28),(20,25),(30,20),(38,12),(40,0),(30,-10),(15,-15),(0,-15)]
blue_core_24 = [(5,20),(15,20),(25,15),(32,10),(35,0),(25,-5),(15,-10),(5,-10),(10,5)]
blue_24 = [(-30,-2),(-28,-5),(0,25),(5,27),(10,26),(15,23),(20,22),(25,20),(30,18),(35,10),(38,15),(38,0),(30,-12),(0,-20),(5,-18),(10,-15),(20,-12),(45,5),(47,-3),(48,0),(50,5),(52,2),(55,-5),(55,-8),(48,-10),(50,-12),(53,-12),(57,-12),(78,3),(92,5),(92,3),(35,-8)]

green_25 = [(-42,-8),(-40,-5),(-38,-2),(-35,3),(-32,7),(-29,11),(-25,15),(-22,19),(-18,23),(-14,27),(-11,30),(-7,35),(-4,40),(0,44),(5,49),(10,53),(15,56),(20,59),(25,62),(30,62),(35,61),(40,58),(45,54),(49,49),(53,44),(56,38),(59,32),(62,26),(66,22),(70,20),(74,17),(78,14),(82,10),(85,5),(88,-1),(91,-7),(94,-13),(96,-18),(98,-23)]
orange_hull_25 = [(-28,-15),(-25,5),(-20,20),(-15,30),(-10,38),(-5,25),(0,20),(10,10),(25,5),(35,-5),(35,-12),(25,-15),(10,-18),(0,-22),(-10,-25),(-20,-28),(-28,-28)]
orange_25 = [(-10,40),(-25,-28),(35,-10),(-8,38)]
orange_core_25 = [(-25,-20),(-15,-20),(-5,-18),(5,-12),(-25,0),(-20,12),(-15,22),(-12,5),(-5,0),(5,5),(15,0),(25,-5),(30,-8),(15,-10),(0,-10),(-10,30),(-15,-10),(-5,12)]
blue_hull_25 = [(-5,25),(5,25),(15,25),(25,20),(35,12),(40,0),(35,-10),(20,-20),(5,-25),(-5,-20)]
blue_core_25 = [(5,20),(15,20),(25,15),(32,5),(35,-5),(25,-12),(15,-18),(5,-20),(20,0)]
blue_25 = [(-25,-5),(-20,-15),(-5,25),(3,26),(10,25),(18,23),(25,20),(30,18),(35,15),(38,10),(40,5),(35,-10),(20,-22),(10,-25),(5,-28),(15,-25),(30,-20),(40,-3),(42,2),(45,5),(45,0),(48,5),(50,10),(48,-15),(50,-12),(52,-18),(45,-10),(55,-5),(60,-5),(70,-3),(30,-12)]

green_26 = [(-41,-8),(-38,-5),(-36,-2),(-33,2),(-30,6),(-27,10),(-23,15),(-20,19),(-17,23),(-14,27),(-10,32),(-7,36),(-4,41),(-1,45),(3,50),(8,55),(12,58),(16,61),(20,63),(25,64),(30,63),(34,61),(38,58),(42,54),(46,50),(49,45),(52,40),(55,35),(58,29),(62,22),(66,20),(70,18),(74,16),(79,12),(83,7),(87,2),(90,-3),(93,-8),(96,-15),(98,-22),(99,-26)]
orange_hull_26 = [(-28,-22),(-25,0),(-22,15),(-18,28),(-15,35),(-10,30),(-5,20),(5,10),(20,2),(35,-5),(37,-12),(25,-15),(10,-18),(0,-22),(-10,-25),(-20,-28),(-28,-28)]
orange_26 = [(-15,37),(-20,-28),(-10,-28),(36,-10)]
orange_core_26 = [(-25,-20),(-15,-22),(-5,-18),(5,-12),(-25,-5),(-20,10),(-15,22),(-12,0),(-5,5),(5,0),(15,-2),(25,-5),(30,-8),(15,-10),(0,-10),(-15,30),(-15,-10),(-8,12)]
blue_hull_26 = [(-5,25),(5,27),(15,22),(30,12),(45,10),(50,5),(45,-5),(35,-15),(20,-20),(5,-25),(-5,-20)]
blue_core_26 = [(5,20),(15,15),(25,10),(35,5),(40,0),(30,-10),(20,-15),(10,-20),(0,-20)]
blue_26 = [(-25,-5),(-20,-10),(-5,25),(3,27),(8,27),(12,25),(15,22),(20,12),(25,13),(30,12),(40,12),(45,10),(50,12),(55,10),(50,0),(55,5),(52,-5),(48,-10),(45,-15),(40,-20),(30,-22),(20,-22),(10,-25),(5,-28),(-10,-28),(70,4),(50,-8),(55,-8),(35,-15)]

green_27 = [(-40,-9),(-38,-6),(-35,-2),(-32,2),(-29,6),(-26,11),(-23,16),(-20,20),(-17,25),(-14,30),(-11,34),(-7,40),(-4,46),(0,50),(5,53),(10,56),(15,58),(20,59),(25,59),(30,58),(35,56),(39,53),(43,50),(47,46),(51,42),(54,37),(57,32),(61,26),(65,23),(70,21),(74,18),(78,15),(82,10),(86,5),(89,1),(92,-4),(95,-9),(97,-14),(99,-19),(100,-24)]
orange_hull_27 = [(-28,-25),(-25,-10),(-22,10),(-18,25),(-15,35),(-12,30),(-8,22),(0,15),(10,8),(25,2),(38,-5),(38,-12),(25,-12),(10,-15),(0,-20),(-10,-25),(-20,-28),(-27,-30)]
orange_27 = [(-16,42),(-25,-28),(-20,-30),(0,-25),(38,-8)]
orange_core_27 = [(-25,-22),(-15,-22),(-5,-18),(5,-12),(-25,-5),(-20,10),(-15,25),(-12,0),(-5,5),(5,5),(15,0),(25,-3),(32,-8),(15,-8),(0,-10),(-12,15),(-15,-12)]
blue_hull_27 = [(-5,20),(0,35),(5,35),(8,25),(15,10),(30,8),(40,10),(40,-5),(30,-10),(15,-8),(5,-5)]
blue_core_27 = [(2,28),(5,15),(10,10),(20,5),(30,3),(35,0),(25,-5),(15,-3)]
blue_27 = [(-25,-5),(-22,-10),(-5,25),(0,32),(4,36),(6,38),(8,30),(5,20),(10,15),(15,12),(20,10),(25,8),(30,10),(35,8),(38,10),(40,5),(38,-5),(30,-10),(35,-8),(50,10),(52,5),(55,15),(50,0),(48,-5),(53,-3),(55,-8),(50,-10),(75,3),(82,5),(45,0)]

green_28 = [(-40,-9),(-37,-5),(-34,-2),(-31,2),(-28,6),(-25,10),(-22,15),(-19,20),(-15,25),(-11,29),(-8,35),(-5,42),(-1,47),(3,52),(7,55),(12,57),(17,59),(22,60),(27,59),(31,58),(35,55),(39,52),(43,48),(47,44),(51,39),(55,34),(59,29),(63,25),(67,21),(71,18),(75,15),(79,11),(83,7),(87,2),(90,-3),(93,-8),(96,-13),(98,-18),(100,-23)]
orange_hull_28 = [(-30,-25),(-28,-10),(-25,5),(-22,15),(-20,25),(-18,35),(-13,38),(-10,30),(-5,25),(5,15),(20,5),(35,-5),(38,-15),(25,-15),(10,-20),(0,-25),(-10,-28),(-20,-28)]
orange_28 = [(-15,38),(-20,35),(-25,-28),(-28,-25),(37,-10)]
orange_core_28 = [(-25,-20),(-15,-22),(-5,-20),(5,-15),(-25,-5),(-20,10),(-18,25),(-12,0),(-5,10),(5,5),(15,0),(25,-5),(32,-10),(15,-10),(0,-12),(-12,20),(-15,30),(-15,-12)]
blue_hull_28 = [(-38,15),(-30,22),(-20,25),(-10,30),(5,30),(15,25),(25,22),(35,15),(40,5),(38,-10),(30,-20),(20,-28),(0,-28),(-20,-20),(-35,-5)]
blue_core_28 = [(-30,15),(-25,20),(-30,0),(-25,-10),(0,25),(10,22),(20,18),(30,10),(35,0),(30,-10),(25,-18),(15,-20),(5,-22),(-10,-22)]
blue_28 = [(-38,15),(-35,20),(-32,22),(-30,25),(-38,10),(-35,5),(-32,0),(-35,-5),(-30,-10),(-5,28),(5,30),(10,28),(15,25),(20,22),(25,30),(28,25),(35,20),(40,10),(40,0),(38,-10),(30,-20),(25,-25),(20,-28),(15,-25),(5,-28),(-5,-28),(-25,-18),(-20,-15),(42,-20),(45,-5),(47,28),(48,33),(43,45),(40,20),(38,30)]

orange_hull_29 = [(-38,5),(-36,20),(-30,28),(-22,30),(-10,32),(-5,42),(5,45),(15,40),(20,25),(30,15),(40,5),(45,-5),(40,-20),(30,-25),(10,-25),(-10,-28),(-20,-30),(-28,-30),(-35,-20),(-38,-10)]
orange_29 = [(-37,0),(-35,10),(-33,20),(-30,25),(-28,28),(-27,-30),(-25,-32),(-30,-25),(-35,-15),(-36,-5),(-5,42),(0,45),(5,43),(10,38),(15,35),(-3,35),(40,-20),(35,-22),(-20,-32),(-25,15),(-30,0)]
orange_core_29 = [(-35,0),(-33,-10),(-30,15),(-28,-20),(-25,5),(0,30),(5,35),(10,30),(-5,25),(10,15),(20,10),(35,0),(-32,8),(-27,-8)]
green_hull_29 = [(-22,28),(-15,28),(-5,20),(5,15),(15,20),(25,25),(35,25),(45,25),(55,20),(60,10),(62,0),(55,-10),(45,-15),(35,-20),(20,-25),(5,-30),(-5,-32),(-15,-30),(-22,-25),(-25,0)]
green_core_29 = [(-18,-15),(-15,0),(-15,15),(-5,-20),(-5,0),(-5,10),(5,5),(5,-15),(15,10),(15,-10),(25,5),(25,-10),(35,10),(35,-5),(45,5),(50,15),(45,-5),(55,10),(30,15),(-10,-10),(10,-25)]
green_29 = [(-22,30),(-20,25),(-15,28),(-10,20),(0,15),(10,20),(20,25),(25,18),(30,20),(35,20),(40,25),(42,30),(44,50),(47,40),(50,30),(52,47),(55,42),(48,35),(53,28),(57,20),(58,15),(60,10),(63,8),(55,5),(50,0),(58,-5),(55,-15),(52,-5),(45,-10),(40,-15),(30,-20),(25,-23),(10,-28),(0,-30),(5,-35),(-10,-30),(-20,-25),(-22,-20),(-20,-10),(-22,0),(-20,10),(40,5),(45,15),(30,5),(20,0),(10,-10),(0,-5),(-10,5)]

# ---------------- assemble panels ----------------
panels = [
    dict(green=green_00, orange=orange_00, ohull=orange_hull_00, ocore=orange_core_00, blue=blue_00),
    dict(green=green_01, orange=orange_01, ohull=orange_hull_01, ocore=orange_core_01, blue=blue_01),
    dict(green=green_02, orange=orange_02, ohull=orange_hull_02, ocore=orange_core_02, blue=blue_02),
    dict(green=green_03, orange=orange_03, ohull=orange_hull_03, ocore=orange_core_03, blue=blue_03),
    dict(green=green_04, orange=orange_04, ohull=orange_hull_04, ocore=orange_core_04, blue=blue_04),
    dict(green=green_05, orange=orange_05, ohull=orange_hull_05, ocore=orange_core_05, blue=blue_05),
    dict(green=green_06, orange=orange_06, ohull=orange_hull_06, ocore=orange_core_06, blue=blue_06),
    dict(green=green_07, orange=orange_07, ohull=orange_hull_07, ocore=orange_core_07, blue=blue_07),
    dict(green=green_08, orange=orange_08, ohull=orange_hull_08, ocore=orange_core_08, blue=blue_08),
    dict(green=green_09, orange=orange_09, ohull=orange_hull_09, ocore=orange_core_09, blue=blue_09),
    dict(green=green_10, orange=orange_10, ohull=orange_hull_10, ocore=orange_core_10, blue=blue_10),
    dict(green=green_11, orange=orange_11, ohull=orange_hull_11, ocore=orange_core_11, blue=blue_11),
    dict(green=green_12, orange=orange_12, ohull=orange_hull_12, ocore=orange_core_12, blue=blue_12),
    dict(green=green_13, orange=orange_13, ohull=orange_hull_13, ocore=orange_core_13, blue=blue_13),
    dict(green=green_14, orange=orange_14, ohull=orange_hull_14, ocore=orange_core_14, blue=blue_14),
    dict(green=green_15, orange=orange_15, ohull=orange_hull_15, ocore=orange_core_15, blue=blue_15),
    dict(green=green_16, orange=orange_16, ohull=orange_hull_16, ocore=orange_core_16, blue=blue_16),
    dict(green=green_17, orange=orange_17, ohull=orange_hull_17, ocore=orange_core_17, blue=blue_17),
    dict(green=green_18, orange=orange_18, ohull=orange_hull_18, ocore=orange_core_18, blue=blue_18),
    dict(green=green_19, orange=orange_19, ohull=orange_hull_19, ocore=orange_core_19, blue=blue_19),
    dict(green=green_20, orange=orange_20, ohull=orange_hull_20, ocore=orange_core_20, blue=blue_20),
    dict(green=green_21, orange=orange_21, ohull=orange_hull_21, ocore=orange_core_21, blue=blue_21, bhull=blue_hull_21, bcore=blue_core_21),
    dict(green=green_22, orange=orange_22, ohull=orange_hull_22, ocore=orange_core_22, blue=blue_22, bhull=blue_hull_22, bcore=blue_core_22),
    dict(green=green_23, orange=orange_23, ohull=orange_hull_23, ocore=orange_core_23, blue=blue_23, bhull=blue_hull_23, bcore=blue_core_23),
    dict(green=green_24, orange=orange_24, ohull=orange_hull_24, ocore=orange_core_24, blue=blue_24, bhull=blue_hull_24, bcore=blue_core_24),
    dict(green=green_25, orange=orange_25, ohull=orange_hull_25, ocore=orange_core_25, blue=blue_25, bhull=blue_hull_25, bcore=blue_core_25),
    dict(green=green_26, orange=orange_26, ohull=orange_hull_26, ocore=orange_core_26, blue=blue_26, bhull=blue_hull_26, bcore=blue_core_26),
    dict(green=green_27, orange=orange_27, ohull=orange_hull_27, ocore=orange_core_27, blue=blue_27, bhull=blue_hull_27, bcore=blue_core_27),
    dict(green=green_28, orange=orange_28, ohull=orange_hull_28, ocore=orange_core_28, blue=blue_28, bhull=blue_hull_28, bcore=blue_core_28),
    dict(green=green_29, orange=orange_29, ohull=orange_hull_29, ocore=orange_core_29, blue=[], ghull=green_hull_29, gcore=green_core_29),
]

# ---------------- styling ----------------
W, H = 1578, 789
COL_L = [42, 300, 562, 821, 1084, 1342]
COL_W = 211
ROW_T = [28.5, 184.2, 339.9, 495.6, 651.3]
ROW_H = 108

C_BLUE = "#1f77b4"
C_ORANGE = "#ff7f0e"
C_GREEN = "#2ca02c"
FILL = {"blue": "rgb(38,100,150)", "orange": "rgb(218,108,22)", "green": "rgb(38,130,38)"}
FONT = "DejaVu Sans, Liberation Sans, sans-serif"

fig = go.Figure()


def xy(pts):
    return [p[0] for p in pts], [p[1] for p in pts]


def add_fill(pts, color, xa, ya):
    if not pts:
        return
    x, y = xy(pts + pts[:1])
    fig.add_trace(go.Scatter(x=x, y=y, mode="lines", fill="toself",
                             fillcolor=color, line=dict(width=0, color=color),
                             xaxis=xa, yaxis=ya, hoverinfo="skip", showlegend=False))


def add_pts(pts, color, xa, ya, opacity=0.7):
    if not pts:
        return
    x, y = xy(pts)
    fig.add_trace(go.Scatter(x=x, y=y, mode="markers",
                             marker=dict(size=7.4, color=color, opacity=opacity,
                                         line=dict(width=0.9, color="black")),
                             xaxis=xa, yaxis=ya, showlegend=False))


annotations = []
for i, pnl in enumerate(panels):
    r, c = divmod(i, 6)
    n = "" if i == 0 else str(i + 1)
    xa, ya = "x" + n, "y" + n
    x0 = COL_L[c] / W
    x1 = (COL_L[c] + COL_W) / W
    y1 = 1 - ROW_T[r] / H
    y0 = 1 - (ROW_T[r] + ROW_H) / H

    if pnl.get("bhull"):
        add_fill(pnl["bhull"], FILL["blue"], xa, ya)
        add_pts(pnl["bcore"], C_BLUE, xa, ya, 0.8)
        add_pts(pnl["bhull"], C_BLUE, xa, ya)
    add_pts(pnl["blue"], C_BLUE, xa, ya)
    add_fill(pnl["ohull"], FILL["orange"], xa, ya)
    add_pts(pnl["ocore"], C_ORANGE, xa, ya, 0.8)
    add_pts(pnl["ohull"], C_ORANGE, xa, ya)
    add_pts(pnl["orange"], C_ORANGE, xa, ya)
    if pnl.get("ghull"):
        add_fill(pnl["ghull"], FILL["green"], xa, ya)
        add_pts(pnl["gcore"], C_GREEN, xa, ya, 0.8)
        add_pts(pnl["ghull"], C_GREEN, xa, ya)
        add_pts(pnl["green"], C_GREEN, xa, ya, 0.7)
    else:
        add_pts(pnl["green"], C_GREEN, xa, ya, 0.88)

    axis_common = dict(showline=True, linecolor="black", linewidth=1, mirror=True,
                       ticks="outside", ticklen=3.5, tickwidth=0.8, tickcolor="black",
                       showgrid=False, zeroline=False,
                       tickfont=dict(family=FONT, size=10.5, color="black"))
    fig.layout["xaxis" + n] = dict(domain=[x0, x1], range=x_ranges[i], anchor=ya,
                                   tickvals=x_ticks[i], **axis_common)
    fig.layout["yaxis" + n] = dict(domain=[y0, y1], range=y_ranges[i], anchor=xa,
                                   tickvals=y_ticks[i], **axis_common)
    annotations.append(dict(text=titles[i], x=(x0 + x1) / 2, y=y1 + 5 / H,
                            xref="paper", yref="paper", xanchor="center", yanchor="bottom",
                            showarrow=False, font=dict(family=FONT, size=13, color="black")))

fig.update_layout(width=W, height=H, margin=dict(l=0, r=0, t=0, b=0),
                  paper_bgcolor="white", plot_bgcolor="white",
                  showlegend=False, annotations=annotations)

fig.write_html("out.html")
